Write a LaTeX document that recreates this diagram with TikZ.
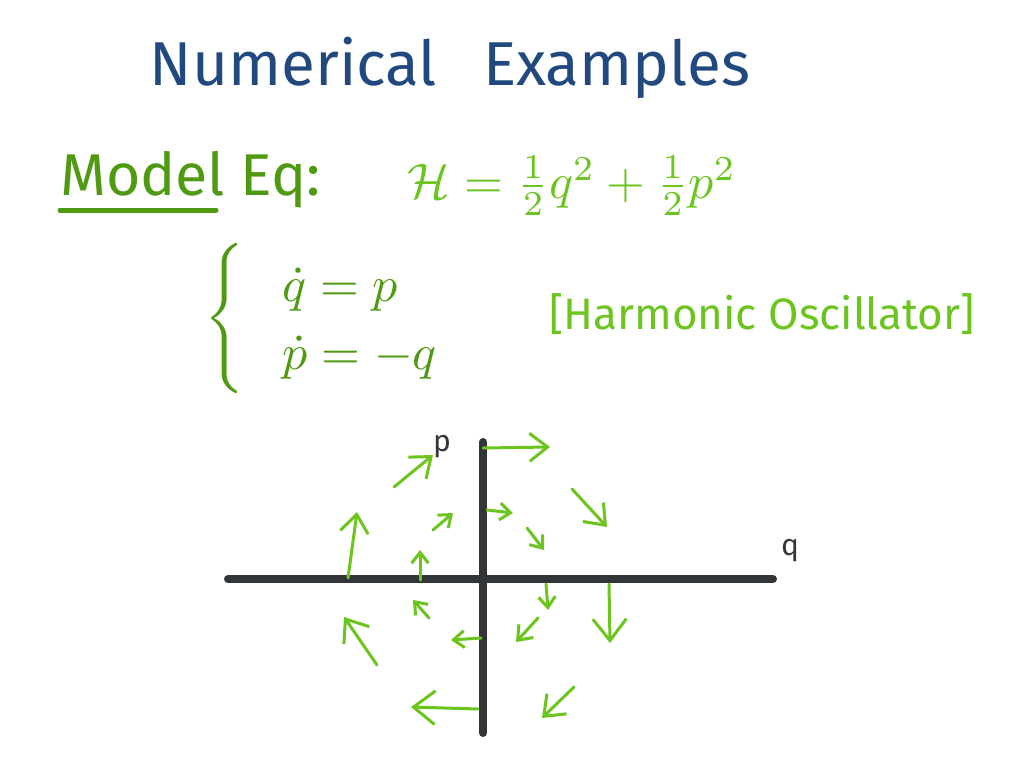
\documentclass[tikz,border=0pt]{standalone}
\usepackage{amsmath}
\usepackage{graphicx}
\usepackage{fontspec}
\setmainfont{Fira Sans}
\usepackage{tikz}
\usetikzlibrary{arrows.meta}
\definecolor{titleblue}{HTML}{21497f}
\definecolor{darkgreen}{HTML}{4f9a12}
\definecolor{lightgreen}{HTML}{6cc41e}
\definecolor{axisgray}{HTML}{333638}
\newcommand{\bigmath}[2]{\scalebox{#1}{$#2$}}

\begin{document}
\begin{tikzpicture}[
  x=1pt, y=-1pt,
  heading/.style={font=\fontsize{62}{70}\selectfont, text=titleblue},
  modeltext/.style={font=\fontsize{59}{64}\selectfont, text=darkgreen},
  eqtext/.style={font=\fontsize{44}{50}\selectfont, text=lightgreen},
  systext/.style={text=darkgreen},
  axislabel/.style={font=\fontsize{30}{34}\selectfont, text=axisgray},
  axis/.style={line width=8pt, axisgray, line cap=round},
  field/.style={line width=3pt, lightgreen, line cap=round, line join=round}
]
\useasboundingbox[fill=white] (0,0) rectangle (1024,768);

% heading and model
\node[heading] (title) at (450,68) {Numerical\hspace{0.75em}Examples};
\node[modeltext, anchor=west, inner sep=0pt] (model) at (60,180) {Model Eq:};
\draw[darkgreen, line width=5pt, line cap=round] (60,210) -- (216,210);
\node[text=lightgreen] (ham) at (572,186)
  {\bigmath{5}{\mathcal{H}=\tfrac{1}{2}q^2+\tfrac{1}{2}p^2}};
\node[systext, inner sep=0pt] (brace) at (228,322)
  {\bigmath{5}{\left\{\rule[-14pt]{0pt}{28pt}\right.}};
\node[systext, anchor=west, inner sep=0pt] (qdot) at (282,290) {\bigmath{5}{\dot q = p}};
\node[systext, anchor=west, inner sep=0pt] (pdot) at (282,358) {\bigmath{5}{\dot p = -q}};
\node[eqtext] (osc) at (762,314) {[Harmonic Oscillator]};

% axes
\draw[axis] (228,579) -- (773,579);
\draw[axis] (483,442) -- (483,733);
\node[axislabel] (plabel) at (442,447) {p};
\node[axislabel] (qlabel) at (790,551) {q};

% vector field
\foreach \xa/\ya/\xb/\yb/\s in {
  483/448/550/447/1, 394/487/433/455/1, 572/489/607/527/1,
  348/578/357/512/1, 433/530/453/513/0.6, 487/510/513/513/0.6,
  527/528/544/550/0.6, 420/580/420/550/0.6, 546/584/548/610/0.6,
  609/584/610/643/1.2, 429/618/413/600/0.6, 481/638/451/640/0.6,
  538/618/516/642/0.7, 377/665/344/617/1.1, 478/709/411/707/1.2,
  574/687/542/718/1}
  \draw[field, arrows={-{Straight Barb[length=18pt, width=28pt, scale=\s]}}]
    (\xa,\ya) -- (\xb,\yb);

\end{tikzpicture}
\end{document}
